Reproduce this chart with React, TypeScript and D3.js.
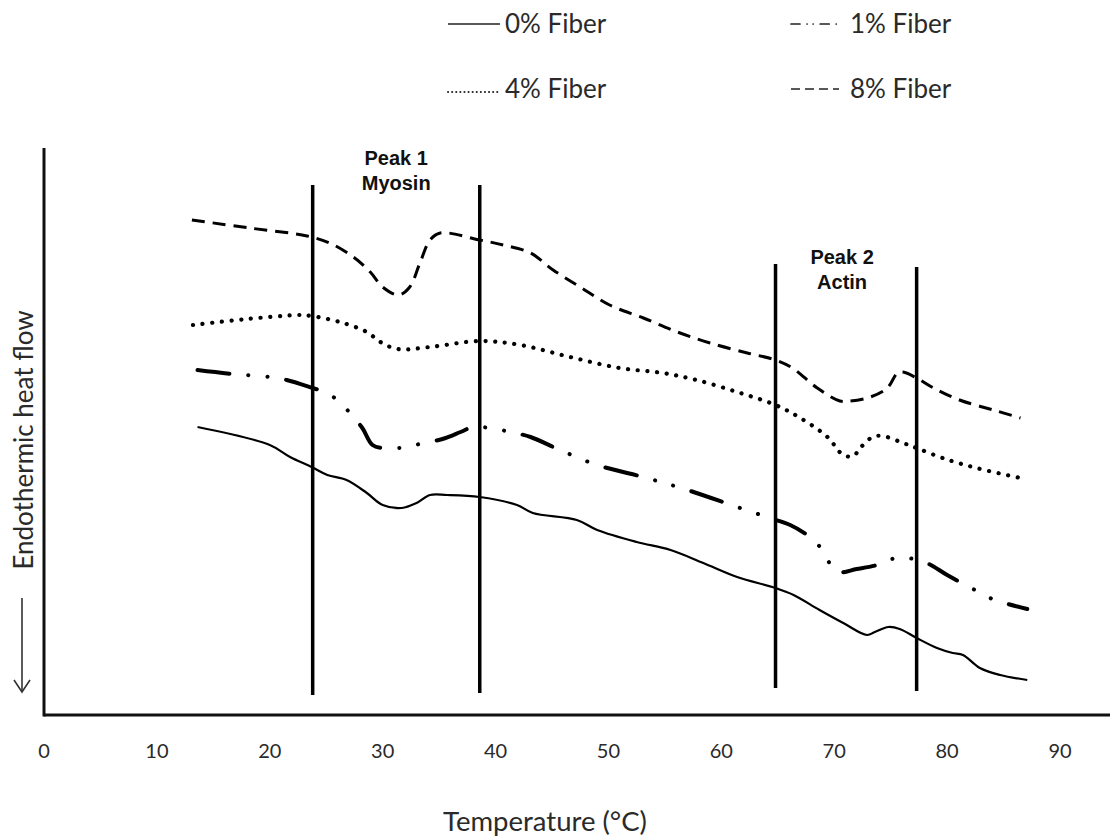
import React from 'react';
import * as d3 from 'd3';

const width = 1110,
      height = 838,
      FONT = "Lato, 'Open Sans', sans-serif";

// temperature (°C), heat flow (arbitrary units, endo down)
const fiber0 = [
  [13.6, 57.6], [20.0, 54.0], [21.8, 51.6], [23.7, 49.6], [25.1, 48.0], [26.8, 47.0],
  [28.6, 44.4], [30.0, 42.0], [31.7, 41.4], [33.0, 42.4], [34.2, 44.0], [35.7, 44.0],
  [38.6, 43.6], [41.9, 42.0], [43.3, 40.4], [47.2, 39.0], [49.0, 37.0], [52.5, 34.6],
  [55.5, 33.0], [58.4, 30.4], [61.4, 27.6], [64.8, 25.4], [66.4, 24.0], [68.7, 21.0],
  [70.8, 18.4], [72.9, 16.0], [73.6, 16.6], [74.8, 17.6], [75.8, 17.2], [77.3, 15.4],
  [79.1, 13.4], [80.5, 12.4], [81.4, 12.0], [82.9, 9.4], [84.7, 8.0], [87.1, 7.0]
];

const fiber1 = [
  [13.6, 69.0], [16.7, 68.2], [20.0, 67.6], [21.5, 67.0], [23.8, 65.4], [24.6, 64.8],
  [26.0, 63.0], [27.1, 60.4], [28.2, 57.4], [29.1, 54.0], [30.0, 53.4], [32.2, 53.6],
  [33.6, 54.4], [35.3, 55.2], [36.9, 56.6], [38.0, 57.6], [39.5, 57.4], [41.3, 56.6],
  [43.1, 55.6], [45.7, 53.0], [49.0, 50.0], [53.4, 47.4], [57.0, 45.0], [61.4, 41.6],
  [64.3, 39.4], [66.1, 38.0], [67.6, 36.0], [68.6, 34.0], [69.4, 31.0], [70.3, 28.6],
  [72.0, 29.2], [73.8, 30.0], [75.1, 31.2], [76.5, 31.4], [78.2, 30.4], [80.0, 28.0],
  [82.3, 25.2], [83.8, 23.4], [85.4, 22.2], [87.1, 21.2]
];

const fiber4 = [
  [13.2, 78.0], [18.0, 79.2], [22.7, 80.0], [23.7, 79.8], [26.2, 78.6], [28.6, 76.6],
  [29.8, 74.6], [31.3, 73.2], [34.2, 73.6], [38.6, 74.8], [42.2, 74.0], [46.6, 71.6],
  [51.0, 69.4], [54.8, 68.4], [57.8, 67.0], [61.4, 64.6], [64.8, 62.0], [67.0, 59.4],
  [69.4, 55.6], [70.8, 52.0], [71.7, 51.8], [72.3, 53.4], [73.4, 55.6], [74.3, 55.8],
  [76.1, 54.4], [77.3, 53.4], [79.6, 51.4], [82.6, 49.4], [86.5, 47.4]
];

const fiber8 = [
  [13.1, 99.0], [18.2, 97.4], [23.3, 95.8], [25.3, 94.4], [27.4, 91.6], [28.9, 88.6],
  [30.0, 85.6], [31.4, 84.0], [32.4, 85.6], [33.3, 90.4], [34.2, 95.0], [35.1, 96.4],
  [38.6, 95.0], [40.7, 94.0], [43.1, 92.4], [45.1, 89.0], [47.5, 85.6], [50.1, 82.0],
  [53.1, 79.4], [56.1, 76.6], [59.0, 74.4], [62.3, 72.4], [64.8, 71.0], [66.3, 69.4],
  [68.5, 65.4], [70.5, 62.8], [71.4, 62.8], [73.2, 63.6], [74.7, 65.4], [75.6, 68.4],
  [76.1, 68.6], [77.3, 67.4], [78.8, 65.4], [81.1, 63.0], [84.1, 61.0], [86.5, 59.4]
];

const xTicks = [0, 10, 20, 30, 40, 50, 60, 70, 80, 90];

// peak boundary lines
const peakTemps = [23.8, 38.6, 64.8, 77.3];
const peakTops = [106, 106, 90.2, 89.6];
const peakBottoms = [4, 4.4, 5.4, 4.8];
const peakNames = [['Peak 1', 'Myosin'], ['Peak 2', 'Actin']];

const legendLabels = ['0% Fiber', '1% Fiber', '4% Fiber', '8% Fiber'];

const x = d3.scaleLinear().domain([0, 90]).range([44, 1060]);
const y = d3.scaleLinear().domain([0, 114]).range([715, 145]);

const line = d3.line()
  .x(d => x(d[0]))
  .y(d => y(d[1]))
  .curve(d3.curveCatmullRom.alpha(0.5));

const series = [
  { data: fiber0, dash: null, w: 2.2, cap: 'butt' },
  { data: fiber1, dash: '32 19 0.1 19 0.1 19', w: 4, cap: 'round' },
  { data: fiber4, dash: '0.1 9.6', w: 4.2, cap: 'round' },
  { data: fiber8, dash: '13 8', w: 3, cap: 'butt' }
];

// legend swatches (small versions of the line styles)
const legendDash = [null, '9 7 0.1 6 0.1 7', '0.1 4', '9 5'];

function Legend() {
  return (
    <g>
      {legendLabels.map((lab, i) => {
        const col = i % 2;
        const row = i < 2 ? 0 : 1;
        const sx = col === 0 ? 448 : 791;
        const tx = col === 0 ? 505 : 850;
        const cy = row === 0 ? 24 : 89;
        const sw = col === 0 ? 52 : 48;
        const ly = i === 2 ? cy + 3 : cy;
        return (
          <g key={lab}>
            <line x1={sx} x2={sx + sw} y1={ly} y2={ly}
                  stroke="#222" strokeWidth={i === 2 ? 2 : 1.7}
                  strokeDasharray={legendDash[i] || undefined}
                  strokeLinecap={i === 1 || i === 2 ? 'round' : 'butt'} />
            <text x={tx} y={cy} dy="0.36em" fontFamily={FONT} fontSize={26} fill="#2a2a2a">{lab}</text>
          </g>
        );
      })}
    </g>
  );
}

export default function App() {
  return (
    <svg width={width} height={height}
         style={{ position: 'absolute', left: 0, top: 0, background: '#fff' }}>
      <rect width={width} height={height} fill="#fff" />

      <Legend />

      {/* axes */}
      <line x1={x(0)} x2={width} y1={y(0)} y2={y(0)} stroke="#111" strokeWidth={3} />
      <line x1={x(0)} x2={x(0)} y1={y(113.4)} y2={y(0) + 1.5} stroke="#111" strokeWidth={3} />

      {xTicks.map(t => (
        <text key={t} x={x(t)} y={751} dy="0.35em" textAnchor="middle"
              fontFamily={FONT} fontSize={20} fill="#2a2a2a">{t}</text>
      ))}

      <text x={545} y={831} textAnchor="middle" fontFamily={FONT}
            fontSize={27.5} fill="#2a2a2a">Temperature (°C)</text>

      <text transform="translate(33,440) rotate(-90)" textAnchor="middle"
            fontFamily={FONT} fontSize={26} fill="#2a2a2a">Endothermic heat flow</text>

      {/* arrow pointing down */}
      <line x1={22} x2={22} y1={598} y2={692} stroke="#333" strokeWidth={1.6} />
      <path d="M14,680 L22,692 L30,680" fill="none" stroke="#333" strokeWidth={1.6} />

      {/* peak boundaries */}
      {peakTemps.map((t, i) => (
        <line key={i} x1={x(t)} x2={x(t)} y1={y(peakTops[i])} y2={y(peakBottoms[i])}
              stroke="#000" strokeWidth={3.5} />
      ))}

      {peakNames.map((names, i) => {
        const cx = x((peakTemps[i * 2] + peakTemps[i * 2 + 1]) / 2) - (i === 1 ? 4 : 0);
        const base = i === 0 ? 165 : 264;
        return (
          <g key={i}>
            {names.map((n, j) => (
              <text key={n} x={cx} y={base + j * 25} textAnchor="middle"
                    fontFamily="'Liberation Sans', Arial, sans-serif" fontWeight="bold"
                    fontSize={20} fill="#111">{n}</text>
            ))}
          </g>
        );
      })}

      {/* DSC curves */}
      {series.map((s, i) => (
        <path key={i} d={line(s.data)} fill="none" stroke="#000"
              strokeWidth={s.w} strokeDasharray={s.dash || undefined}
              strokeLinecap={s.cap} strokeLinejoin="round" />
      ))}
    </svg>
  );
}
